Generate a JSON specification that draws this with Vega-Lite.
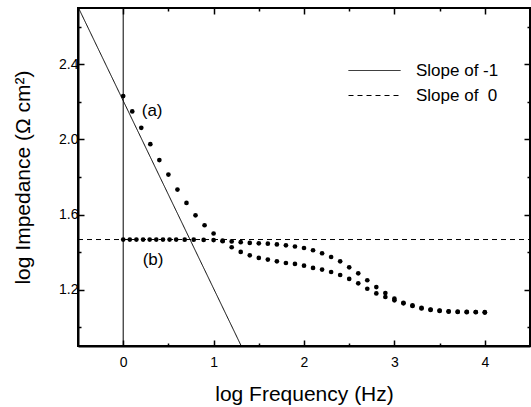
{
  "$schema": "https://vega.github.io/schema/vega-lite/v6.json",
  "width": 452,
  "height": 338,
  "autosize": {"type": "none"},
  "padding": {"left": 78, "top": 8, "right": 1, "bottom": 61},
  "config": {
    "view": {"stroke": "black", "strokeWidth": 2},
    "font": "Liberation Sans",
    "axis": {
      "grid": false,
      "domainColor": "black",
      "domainWidth": 2,
      "tickColor": "black",
      "tickWidth": 1.5,
      "labelColor": "black",
      "labelFontSize": 14,
      "titleColor": "black",
      "titleFontSize": 21,
      "titleFontWeight": "normal"
    }
  },
  "datasets": {
    "lines": [
      {"series": "Slope of -1", "x": -0.494, "y": 2.7},
      {"series": "Slope of -1", "x": 1.306, "y": 0.9},
      {"series": "Slope of\u00a0 0", "x": -0.5, "y": 1.467},
      {"series": "Slope of\u00a0 0", "x": 4.5, "y": 1.467}
    ],
    "points": [
      {"series": "a", "x": 0.0, "y": 2.231},
      {"series": "a", "x": 0.1, "y": 2.149},
      {"series": "a", "x": 0.2, "y": 2.062},
      {"series": "a", "x": 0.3, "y": 1.975},
      {"series": "a", "x": 0.4, "y": 1.89},
      {"series": "a", "x": 0.5, "y": 1.813},
      {"series": "a", "x": 0.6, "y": 1.733},
      {"series": "a", "x": 0.7, "y": 1.662},
      {"series": "a", "x": 0.8, "y": 1.596},
      {"series": "a", "x": 0.9, "y": 1.543},
      {"series": "a", "x": 1.0, "y": 1.499},
      {"series": "a", "x": 1.1, "y": 1.458},
      {"series": "a", "x": 1.2, "y": 1.426},
      {"series": "a", "x": 1.3, "y": 1.401},
      {"series": "a", "x": 1.4, "y": 1.383},
      {"series": "a", "x": 1.5, "y": 1.369},
      {"series": "a", "x": 1.6, "y": 1.36},
      {"series": "a", "x": 1.7, "y": 1.351},
      {"series": "a", "x": 1.8, "y": 1.342},
      {"series": "a", "x": 1.9, "y": 1.337},
      {"series": "a", "x": 2.0, "y": 1.328},
      {"series": "a", "x": 2.1, "y": 1.316},
      {"series": "a", "x": 2.2, "y": 1.307},
      {"series": "a", "x": 2.3, "y": 1.294},
      {"series": "a", "x": 2.4, "y": 1.278},
      {"series": "a", "x": 2.5, "y": 1.257},
      {"series": "a", "x": 2.6, "y": 1.234},
      {"series": "a", "x": 2.7, "y": 1.205},
      {"series": "a", "x": 2.8, "y": 1.18},
      {"series": "a", "x": 2.9, "y": 1.161},
      {"series": "a", "x": 3.0, "y": 1.143},
      {"series": "a", "x": 3.1, "y": 1.127},
      {"series": "a", "x": 3.2, "y": 1.113},
      {"series": "a", "x": 3.3, "y": 1.1},
      {"series": "a", "x": 3.4, "y": 1.092},
      {"series": "a", "x": 3.5, "y": 1.087},
      {"series": "a", "x": 3.6, "y": 1.083},
      {"series": "a", "x": 3.7, "y": 1.081},
      {"series": "a", "x": 3.8, "y": 1.08},
      {"series": "a", "x": 3.9, "y": 1.08},
      {"series": "a", "x": 4.0, "y": 1.078},
      {"series": "b", "x": 0.0, "y": 1.467},
      {"series": "b", "x": 0.073, "y": 1.467},
      {"series": "b", "x": 0.146, "y": 1.467},
      {"series": "b", "x": 0.22, "y": 1.467},
      {"series": "b", "x": 0.293, "y": 1.467},
      {"series": "b", "x": 0.366, "y": 1.467},
      {"series": "b", "x": 0.44, "y": 1.467},
      {"series": "b", "x": 0.513, "y": 1.467},
      {"series": "b", "x": 0.586, "y": 1.467},
      {"series": "b", "x": 0.68, "y": 1.466},
      {"series": "b", "x": 0.78, "y": 1.466},
      {"series": "b", "x": 0.89, "y": 1.465},
      {"series": "b", "x": 1.0, "y": 1.464},
      {"series": "b", "x": 1.1, "y": 1.461},
      {"series": "b", "x": 1.2, "y": 1.457},
      {"series": "b", "x": 1.3, "y": 1.453},
      {"series": "b", "x": 1.4, "y": 1.449},
      {"series": "b", "x": 1.5, "y": 1.447},
      {"series": "b", "x": 1.6, "y": 1.445},
      {"series": "b", "x": 1.7, "y": 1.441},
      {"series": "b", "x": 1.8, "y": 1.436},
      {"series": "b", "x": 1.9, "y": 1.43},
      {"series": "b", "x": 2.0, "y": 1.422},
      {"series": "b", "x": 2.1, "y": 1.41},
      {"series": "b", "x": 2.2, "y": 1.394},
      {"series": "b", "x": 2.3, "y": 1.374},
      {"series": "b", "x": 2.4, "y": 1.351},
      {"series": "b", "x": 2.5, "y": 1.319},
      {"series": "b", "x": 2.6, "y": 1.287},
      {"series": "b", "x": 2.7, "y": 1.25},
      {"series": "b", "x": 2.8, "y": 1.214},
      {"series": "b", "x": 2.9, "y": 1.182},
      {"series": "b", "x": 3.0, "y": 1.152},
      {"series": "b", "x": 3.1, "y": 1.13},
      {"series": "b", "x": 3.2, "y": 1.116},
      {"series": "b", "x": 3.3, "y": 1.103},
      {"series": "b", "x": 3.4, "y": 1.094},
      {"series": "b", "x": 3.5, "y": 1.089},
      {"series": "b", "x": 3.6, "y": 1.085},
      {"series": "b", "x": 3.7, "y": 1.083},
      {"series": "b", "x": 3.8, "y": 1.082},
      {"series": "b", "x": 3.9, "y": 1.081},
      {"series": "b", "x": 4.0, "y": 1.08}
    ],
    "labels": [
      {"label": "(a)", "x": 0.32, "y": 2.15},
      {"label": "(b)", "x": 0.33, "y": 1.36}
    ]
  },
  "layer": [
    {
      "data": {"name": "lines"},
      "mark": {"type": "line", "color": "black", "strokeWidth": 1},
      "encoding": {
        "x": {
          "field": "x", "type": "quantitative",
          "scale": {"domain": [-0.5, 4.5], "nice": false, "zero": false},
          "axis": {
            "orient": "bottom",
            "title": "log Frequency (Hz)",
            "values": [0, 0.5, 1, 1.5, 2, 2.5, 3, 3.5, 4],
            "labelExpr": "datum.value % 1 === 0 ? format(datum.value, 'd') : ''",
            "tickSize": {"expr": "datum.value % 1 === 0 ? -6 : -3"},
            "labelPadding": 15,
            "titlePadding": 14
          }
        },
        "y": {
          "field": "y", "type": "quantitative",
          "scale": {"domain": [0.9, 2.7], "nice": false, "zero": false},
          "axis": {
            "orient": "left",
            "title": "log Impedance (Ω cm²)",
            "values": [1.0, 1.2, 1.4, 1.6, 1.8, 2.0, 2.2, 2.4, 2.6],
            "labelExpr": "round(datum.value * 10) % 4 === 0 ? format(datum.value, '.1f') : ''",
            "tickSize": {"expr": "round(datum.value * 10) % 4 === 0 ? -6 : -3"},
            "labelPadding": 6,
            "titlePadding": 25
          }
        },
        "strokeDash": {
          "field": "series", "type": "nominal",
          "scale": {"domain": ["Slope of -1", "Slope of\u00a0 0"], "range": [[1, 0], [5, 4]]},
          "legend": {
            "orient": "none",
            "legendX": 283,
            "legendY": 49,
            "title": null,
            "symbolType": "M-2,0H2",
            "symbolSize": 676,
            "symbolFillColor": "transparent",
            "symbolStrokeColor": "black",
            "symbolStrokeWidth": 1,
            "labelFontSize": 17,
            "labelColor": "black",
            "labelOffset": 28,
            "rowPadding": 3
          }
        }
      }
    },
    {
      "data": {"values": [{"x": 0}]},
      "mark": {"type": "rule", "color": "black", "strokeWidth": 1},
      "encoding": {
        "x": {
          "field": "x", "type": "quantitative",
          "scale": {"domain": [-0.5, 4.5], "nice": false, "zero": false},
          "axis": {
            "orient": "top",
            "title": null,
            "domain": false,
            "labels": false,
            "values": [0, 0.5, 1, 1.5, 2, 2.5, 3, 3.5, 4],
            "tickSize": {"expr": "datum.value % 1 === 0 ? -6 : -3"}
          }
        }
      }
    },
    {
      "data": {"name": "points"},
      "mark": {"type": "circle", "color": "black", "size": 22, "opacity": 1},
      "encoding": {
        "x": {
          "field": "x", "type": "quantitative",
          "scale": {"domain": [-0.5, 4.5], "nice": false, "zero": false},
          "axis": null
        },
        "y": {
          "field": "y", "type": "quantitative",
          "scale": {"domain": [0.9, 2.7], "nice": false, "zero": false},
          "axis": {
            "orient": "right",
            "title": null,
            "domain": false,
            "labels": false,
            "values": [1.0, 1.2, 1.4, 1.6, 1.8, 2.0, 2.2, 2.4, 2.6],
            "tickSize": {"expr": "round(datum.value * 10) % 4 === 0 ? -6 : -3"}
          }
        },
        "detail": {"field": "series", "type": "nominal"}
      }
    },
    {
      "data": {"name": "labels"},
      "mark": {"type": "text", "color": "black", "fontSize": 17, "font": "Liberation Sans"},
      "encoding": {
        "x": {"field": "x", "type": "quantitative", "scale": {"domain": [-0.5, 4.5], "nice": false, "zero": false}, "axis": null},
        "y": {"field": "y", "type": "quantitative", "scale": {"domain": [0.9, 2.7], "nice": false, "zero": false}, "axis": null},
        "text": {"field": "label", "type": "nominal"}
      }
    }
  ]
}
